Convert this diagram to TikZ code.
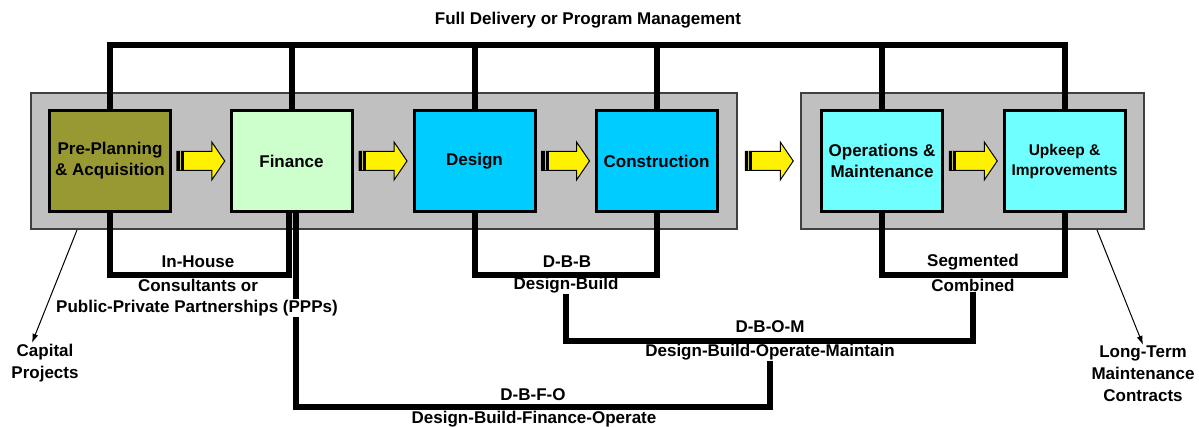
\documentclass[tikz,border=0pt]{standalone}
\usepackage{fontspec}
\setmainfont{Liberation Sans}
\usetikzlibrary{calc,arrows.meta}
\definecolor{preplan}{RGB}{153,153,51}
\definecolor{finance}{RGB}{204,255,204}
\definecolor{design}{RGB}{0,204,255}
\definecolor{operate}{RGB}{112,255,255}
\definecolor{framegray}{RGB}{192,192,192}
\definecolor{frameline}{RGB}{64,64,64}

\begin{document}
\begin{tikzpicture}[>={Latex[length=9pt,width=6pt]}, x=1pt, y=-1pt,
    every node/.style={font=\fontsize{17}{22}\selectfont\bfseries, align=center, inner sep=1pt},
    phase/.style={draw, line width=3pt, minimum width=121pt, minimum height=101pt, inner sep=0pt,
        font=\fontsize{17}{21}\selectfont\bfseries},
    frame/.style={draw=frameline, line width=2pt, fill=framegray, minimum height=136pt},
    bar/.style={line width=6pt, line join=miter},
    yarrow/.pic={
        \fill[yellow, draw=black, line width=1pt] (-24,-9.5) -- (11,-9.5) -- (11,-19) -- (24,0)
            -- (11,19) -- (11,9.5) -- (-24,9.5) -- cycle;
        \fill[black] (-24,-9.5) rectangle (-17,9.5);
        \draw[yellow!80!black, line width=1pt] (-20.5,-9.5) -- (-20.5,9.5);
    }]
\useasboundingbox (0,0) rectangle (1199,427);

\node[frame, minimum width=706pt] (left) at (384,161) {};
\node[frame, minimum width=343pt] (right) at (972.5,161) {};

\node[phase, fill=preplan] (pre) at (110,161) {Pre-Planning\\\& Acquisition};
\node[phase, fill=finance] (fin) at (291.5,161) {Finance};
\node[phase, fill=design] (des) at (474.5,161) {Design};
\node[phase, fill=design] (con) at (656.5,161) {Construction};
\node[phase, fill=operate] (ops) at (882,161) {Operations \&\\Maintenance};
\node[phase, fill=operate, font=\fontsize{15.5}{20}\selectfont\bfseries] (upk) at (1064.5,161) {Upkeep \&\\Improvements};

\foreach \a/\b in {pre/fin, fin/des, des/con, con/ops, ops/upk}
    \path ($(\a.east)!.5!(\b.west)$) pic {yarrow};

\node (title) at (588,20) {Full Delivery or Program Management};
\coordinate (topbar) at (0,45);
\draw[bar] (pre.north) -- (pre.north |- topbar) -| (upk.north);
\foreach \n in {fin, des, con, ops}
    \draw[bar] (\n.north) -- (\n.north |- topbar);

\node (inhouse) at (198,262) {In-House};
\node (consult) at (198,285) {Consultants or};
\node (dbb) at (567,262) {D-B-B};
\node (dbuild) at (566,285) {Design-Build};
\node (segm) at (973,262) {Segmented};
\node (comb) at (973,285) {Combined};
\node (dbom) at (770,327) {D-B-O-M};
\node (dbomlong) at (770,352) {Design-Build-Operate-Maintain};
\node (dbfo) at (533,395) {D-B-F-O};
\node (dbfolong) at (534,419) {Design-Build-Finance-Operate};
\node (capital) at (45,363) {Capital\\Projects};
\node (longterm) at (1143,374) {Long-Term\\Maintenance\\Contracts};

\coordinate (low) at (0,275);
\coordinate (dbomline) at (0,341.5);
\coordinate (dbfoline) at (0,407);
\draw[bar] (pre.south) -- (pre.south |- low) -| ([xshift=-3pt]fin.south);
\draw[bar] ([xshift=4pt]fin.south) -- ([xshift=4pt]fin.south |- dbfoline) -| (dbomlong.south);
\draw[bar] (des.south) -- (des.south |- low) -| (con.south);
\draw[bar] (dbuild.south) -- (dbuild.south |- dbomline) -| (comb.south);
\draw[bar] (ops.south) -- (ops.south |- low) -| (upk.south);
\draw[->, line width=1pt] ([xshift=47pt]left.south west) -- ([xshift=-13pt]capital.north);
\draw[->, line width=1pt] ([xshift=-48pt]right.south east) -- (longterm.north);
\node[fill=white] (ppp) at (197,308) {Public-Private Partnerships (PPPs)};
\end{tikzpicture}
\end{document}
